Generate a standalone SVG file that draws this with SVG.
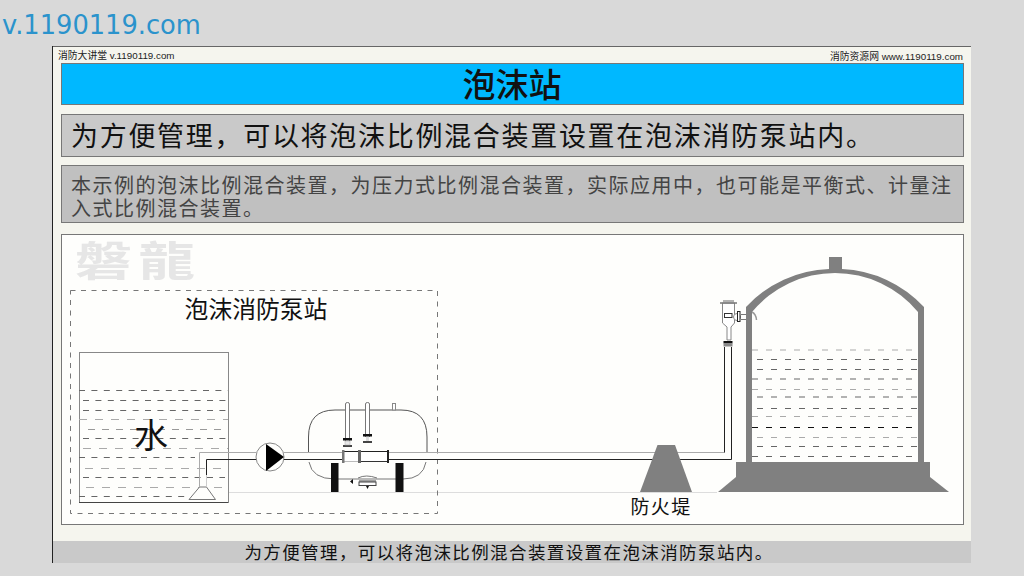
<svg xmlns="http://www.w3.org/2000/svg" width="1024" height="576" viewBox="0 0 1024 576">
<style>
text{font-family:"DejaVu Sans","Noto Sans CJK SC",sans-serif;fill:#111}
.cjk{font-family:"Noto Sans CJK SC",sans-serif}
.small{font-family:"Liberation Sans","Noto Sans CJK SC",sans-serif;font-size:9.800px;fill:#222}
.band{stroke:#777;stroke-width:1}
.d1{stroke:#666;stroke-width:1;stroke-dasharray:6 6.400;fill:none}
.d2{stroke:#aaa;stroke-width:1;stroke-dasharray:8 8;fill:none}
.d3{stroke:#999;stroke-width:1;stroke-dasharray:7 7;fill:none}
.t1{stroke:#666;stroke-width:1;stroke-dasharray:6 8;fill:none}
.t2{stroke:#aaa;stroke-width:1;stroke-dasharray:6 8;fill:none}
.pipe{fill:none;stroke:#222;stroke-width:1}
.pipeg{fill:none;stroke:#aaa;stroke-width:1}
.grey{fill:#808080}
.blk{fill:#111}
</style>
<rect width="1024" height="576" fill="#d9d9d9"/>
<text x="2" y="34" style="font-family:'DejaVu Sans',sans-serif;font-size:25.700px;fill:#2b93cc">v.1190119.com</text>
<g id="page">
<rect x="53" y="46" width="918" height="517" fill="#f5f5ee"/>
<path d="M53 46.500H971" stroke="#666" fill="none"/>
<path d="M52.500 46V563" stroke="#222" fill="none"/>
<rect x="53" y="541" width="918" height="22" fill="#c9c9c9"/>
<text class="small" x="58" y="59">消防大讲堂 v.1190119.com</text>
<text class="small" x="963" y="60" text-anchor="end">消防资源网 www.1190119.com</text>
</g>
<g id="title">
<rect class="band" x="61.500" y="63.500" width="902" height="41" fill="#00b8ff"/>
<text class="cjk" x="512" y="97" font-size="33" font-weight="500" text-anchor="middle">泡沫站</text>
</g>
<g id="subtitle">
<rect class="band" x="61.500" y="114.500" width="902" height="42" fill="#c9c9c9"/>
<text class="cjk" x="71" y="146" font-size="27" letter-spacing="1.700">为方便管理，可以将泡沫比例混合装置设置在泡沫消防泵站内。</text>
</g>
<g id="note">
<rect class="band" x="61.500" y="165.500" width="902" height="57" fill="#c0c0c0"/>
<text class="cjk" x="71" y="193" font-size="20" letter-spacing="1.500" style="fill:#444">本示例的泡沫比例混合装置，为压力式比例混合装置，实际应用中，也可能是平衡式、计量注</text>
<text class="cjk" x="71" y="216" font-size="20" letter-spacing="1.500" style="fill:#444">入式比例混合装置。</text>
</g>
<g id="panel">
<rect x="61.500" y="234.500" width="902" height="290" fill="#fefefc" stroke="#777"/>
<text class="cjk" transform="translate(75 276) scale(1.380 1)" font-size="41" font-weight="700" style="fill:#e6e6e6" letter-spacing="5">磐龍</text>
<path d="M228 492.500H717" stroke="#ddd" fill="none"/>
</g>
<g id="pump-station">
<rect x="70.500" y="290.500" width="367" height="223" fill="none" stroke="#777" stroke-dasharray="5 5.500"/>
<text class="cjk" x="256" y="318" font-size="23.800" text-anchor="middle">泡沫消防泵站</text>
</g>
<g id="water-tank">
<rect x="79.500" y="352.500" width="149" height="150" fill="none" stroke="#888"/>
<path d="M79 502.500H228" stroke="#444"/>
<path class="d1" d="M79 390.500H228"/>
<path class="d1" d="M83 400.500H228"/>
<path class="d1" d="M83 410.500H228"/>
<path class="d2" d="M79 419.500H228"/>
<path class="d3" d="M88 429.500H228"/>
<path class="d1" d="M83 438.500H228"/>
<path class="d2" d="M83 448.500H228"/>
<path class="d1" d="M79 457.500H195" stroke-dasharray="8 9"/>
<path class="d2" d="M85 468.500H228"/>
<path class="d1" d="M83 477.500H225"/>
<path class="d2" d="M86 487.500H228"/>
<path class="d1" d="M79 496.500H190"/>
<text class="cjk" x="151" y="448" font-size="34" text-anchor="middle">水</text>
</g>
<g id="foot-valve">
<path d="M199.500 487 189 499.500H215.500L206.500 487Z" fill="#fefefc" stroke="#777"/>
</g>
<g id="connectors">
<path class="pipeg" d="M199.500 487V452.500H256"/>
<path class="pipe" d="M206.500 475V459.500H256"/>
<path d="M206.500 475V487" stroke="#ccc" fill="none"/>
<path class="pipeg" d="M284 452.500H342"/>
<path class="pipe" d="M284 459.500H342"/>
<path class="pipeg" d="M389 452.500H724.500"/>
<path class="pipe" d="M389 459.500H731.500V347M724.500 452.500V347"/>
</g>
<g id="pump">
<circle cx="270" cy="457" r="14" fill="#fefefc" stroke="#888"/>
<path d="M266 444 284 457 266 471Z" fill="#000"/>
</g>
<g id="proportioner">
<path d="M308.500 452V437Q308.500 410 335 410H401Q427 410 427 437V452" fill="#fefefc" stroke="#555"/>
<path d="M309 462Q312 479 335 479H403Q423 479 426 462" fill="#fefefc" stroke="#777"/>
<path class="pipeg" d="M309 452.500H342M389 452.500H427"/>
<path class="pipe" d="M309 459.500H342M389 459.500H427"/>
<rect x="392.500" y="403.500" width="3" height="6.500" fill="#fff" stroke="#888"/>
<path d="M345.500 447V404Q345.500 402.500 347.500 402.500 349.500 402.500 349.500 404V447" fill="#fff" stroke="#777"/>
<path d="M365.500 437V404Q365.500 402.500 367.500 402.500 369.500 402.500 369.500 404V437" fill="#fff" stroke="#777"/>
<rect x="343" y="438" width="9" height="2.500" class="blk"/>
<rect x="343" y="445" width="9" height="2" fill="#444"/>
<rect x="363" y="434" width="9" height="2.500" class="blk"/>
<rect x="363" y="441" width="9" height="2" fill="#444"/>
<rect x="345" y="441" width="5" height="4" fill="#e8e8e8" stroke="#aaa" stroke-width=".5"/>
<rect x="366" y="437" width="3" height="4" fill="#ddd"/>
<rect x="343" y="451" width="46" height="11" fill="#fff"/>
<path d="M344 451.500H388" stroke="#222"/>
<path d="M344 461.500H358" stroke="#bbb"/>
<path d="M360 461.500H388" stroke="#333"/>
<rect x="342" y="450" width="2.500" height="13" fill="#777"/>
<rect x="358" y="450" width="3" height="13" fill="#666"/>
<rect x="387" y="450" width="2" height="13" fill="#222"/>
<rect x="331" y="463" width="7.500" height="29" class="blk"/>
<rect x="395.500" y="463" width="8" height="29" class="blk"/>
<path d="M358 478Q366 474 377 478" fill="none" stroke="#777"/>
<rect x="359" y="482" width="17" height="3.500" fill="#fff" stroke="#444"/>
<path d="M359 481H376" stroke="#444"/>
<path d="M350 481.500 353 479V484ZM366 486H369L367.500 489Z" class="blk"/>
</g>
<g id="dike">
<path class="grey" d="M640 492 657.500 445H675L692 492Z"/>
<text class="cjk" x="661" y="514" font-size="19" letter-spacing="1.300" text-anchor="middle">防火堤</text>
</g>
<g id="foam-chamber">
<path d="M722.500 303V323L727 327V340H731V327L734.500 323V303Z" fill="#fff" stroke="#888"/>
<path d="M720 303H737" stroke="#777" stroke-width="1.500"/>
<path d="M723 301H734" stroke="#999" stroke-width="1.500"/>
<rect x="724.500" y="313.500" width="7.500" height="4" fill="#fff" stroke="#333"/>
<rect x="723.500" y="341" width="9" height="2.500" class="blk"/>
<rect x="723.500" y="343.500" width="9" height="3" fill="#888"/>
<path d="M741 314.500H747M741 319.500H747" stroke="#777" fill="none"/>
<circle cx="737" cy="317" r="3.500" fill="#fff" stroke="#888"/>
<rect x="737.500" y="311.500" width="2.500" height="10" fill="#fff" stroke="#222"/>
<path d="M752 312Q756 314 756.500 320" fill="none" stroke="#999" stroke-width="1.500"/>
</g>
<g id="foam-tank">
<path class="grey" d="M746 307A119 119 0 0 1 829 269V257H842V269A119 119 0 0 1 924 307V462H918V312A107.800 107.800 0 0 0 752 312V462H746Z"/>
<rect class="grey" x="736" y="462" width="194" height="15"/>
<path class="grey" d="M736 477 718 492H949L930 477Z"/>
<path class="t2" d="M752 350H918"/>
<path class="t1" d="M757 359.500H918"/>
<path class="t1" d="M757 369.500H918"/>
<path class="t1" d="M752 379H918"/>
<path class="t2" d="M752 389.500H918"/>
<path class="t1" d="M757 397H918"/>
<path class="t1" d="M757 408.500H918"/>
<path class="t2" d="M752 416.500H918"/>
<path d="M752 427.500H918" stroke="#111" stroke-dasharray="6 8" fill="none"/>
<path class="t2" d="M757 437.500H918"/>
<path class="t1" d="M757 446.500H918"/>
<path class="t1" d="M752 456.500H918"/>
</g>
<g id="caption">
<text class="cjk" x="509" y="559" font-size="17.500" letter-spacing="1.400" text-anchor="middle">为方便管理，可以将泡沫比例混合装置设置在泡沫消防泵站内。</text>
</g>
</svg>
